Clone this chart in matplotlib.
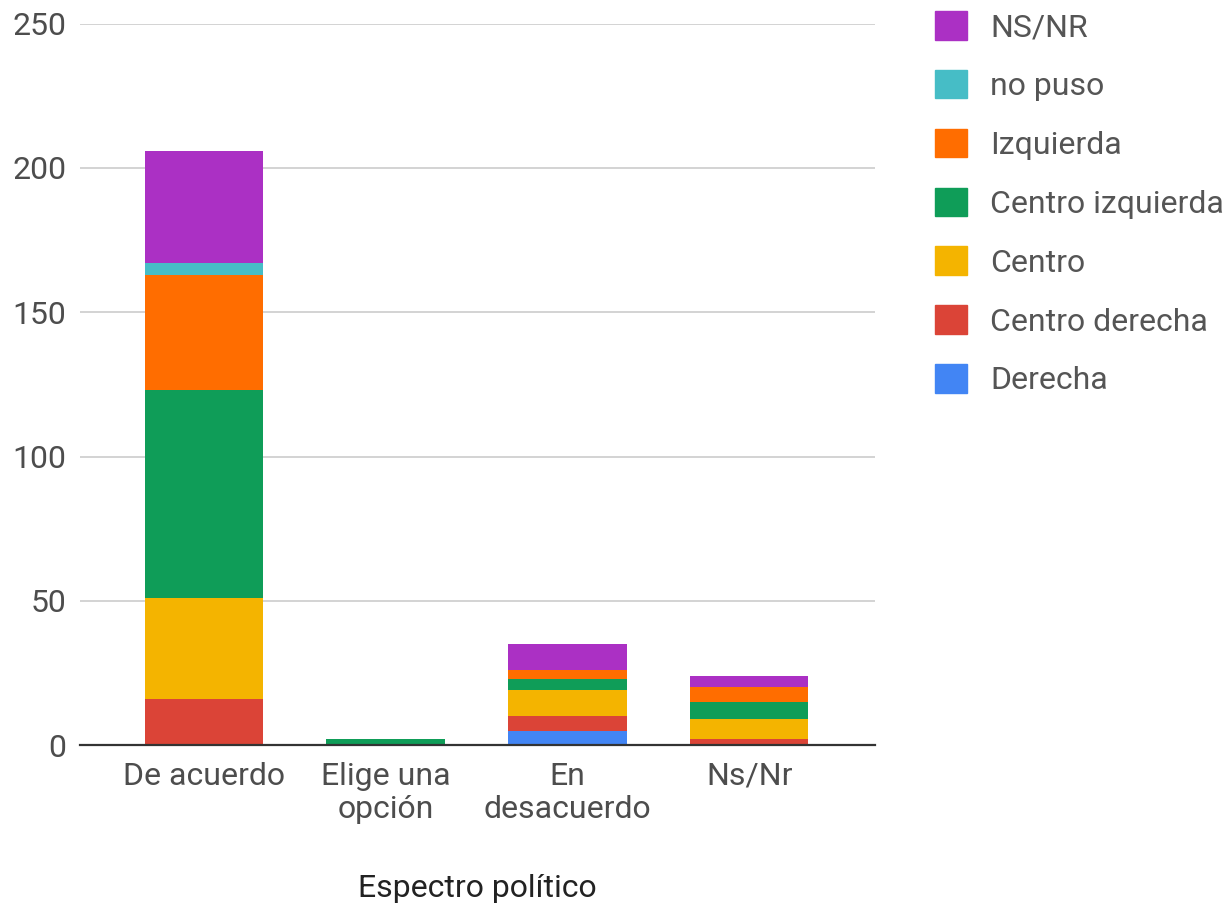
import numpy as np
import matplotlib.pyplot as plt
from matplotlib.patches import Rectangle

plt.rcParams['font.family'] = ['Roboto', 'DejaVu Sans']

categories = ["De acuerdo", "Elige una\nopción", "En\ndesacuerdo", "Ns/Nr"]
series = ["Derecha", "Centro derecha", "Centro", "Centro izquierda",
          "Izquierda", "no puso", "NS/NR"]
derecha = [0, 0, 5, 0]
centro_derecha = [16, 0, 5, 2]
centro = [35, 0, 9, 7]
centro_izquierda = [72, 2, 4, 6]
izquierda = [40, 0, 3, 5]
no_puso = [4, 0, 0, 0]
ns_nr = [39, 0, 9, 4]
values = [derecha, centro_derecha, centro, centro_izquierda, izquierda, no_puso, ns_nr]
colors = ["#4285F4", "#DB4437", "#F4B400", "#0F9D58", "#FF6D00", "#46BDC6", "#AB30C4"]

fs = 23

fig = plt.figure(figsize=(12.32, 9.11), dpi=100)
ax = fig.add_axes([0.065, 0.182, 0.645, 0.792])

x = np.arange(len(categories))
bottom = np.zeros(len(categories))
for name, vals, c in zip(series, values, colors):
    ax.bar(x, vals, 0.65, bottom=bottom, color=c, label=name, zorder=3)
    bottom += np.array(vals)

ax.set_xlim(-0.68, 3.69)
ax.set_ylim(0, 250)
ax.set_yticks([0, 50, 100, 150, 200, 250])
ax.yaxis.grid(True, color="#cccccc", lw=1.2, zorder=0)
for s in ["top", "right", "left"]:
    ax.spines[s].set_visible(False)
ax.spines["bottom"].set_color("#333333")
ax.spines["bottom"].set_linewidth(1.6)
ax.spines["bottom"].set_zorder(4)
ax.tick_params(axis="both", length=0, labelsize=fs, colors="#4d4d4d")
ax.tick_params(axis="y", pad=10)
ax.tick_params(axis="x", pad=12)
ax.set_xticks(x)
ax.set_xticklabels(categories, linespacing=1.2)
ax.set_xlabel("Espectro político", fontsize=fs, color="#222222", labelpad=36)

handles = [Rectangle((0, 0), 1, 1, color=c) for c in colors]
fig.legend(handles[::-1], series[::-1], loc="upper left",
           bbox_to_anchor=(0.759, 0.988), frameon=False, fontsize=fs,
           handlelength=1.0, handleheight=1.0, labelspacing=0.865,
           handletextpad=0.72, borderpad=0, borderaxespad=0,
           labelcolor="#555555")

fig.savefig("out.png", dpi=100)
